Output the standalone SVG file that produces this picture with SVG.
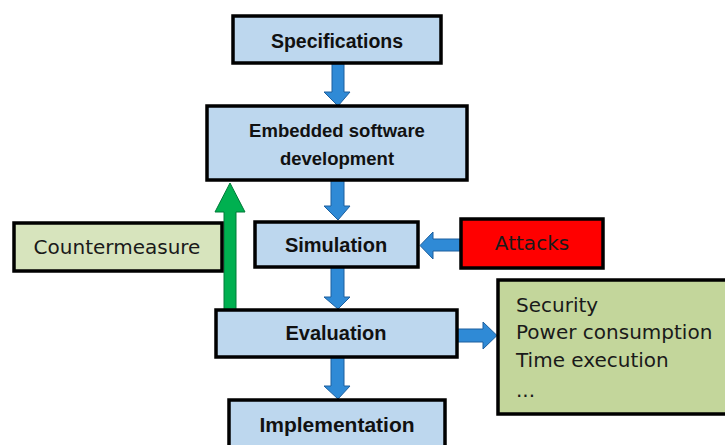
<svg xmlns="http://www.w3.org/2000/svg" width="725" height="445" viewBox="0 0 725 445">
  <style>
    .box { stroke: #000; stroke-width: 3.5; }
    .blue { fill: #bdd7ee; }
    .lgreen { fill: #d7e4bd; }
    .mgreen { fill: #c3d69b; }
    .red { fill: #ff0000; }
    .bt { font-family: "Liberation Sans", Arial, sans-serif; font-weight: bold; fill: #111; text-anchor: middle; }
    .rt { font-family: "DejaVu Sans", Verdana, sans-serif; fill: #1a1a1a; font-size: 20px; }
    .arr { fill: #2f8ad6; stroke: #1d5f9e; stroke-width: 1; }
    .garr { fill: #00b050; stroke: #007a38; stroke-width: 1; }
  </style>
  <rect width="725" height="445" fill="#fff"/>

  <g id="connectors">
    <!-- Specifications -> Embedded software development -->
    <path class="arr" d="M332,64 H344 V92 H350 L338,106 L324,92 H332 Z"/>
    <!-- Embedded software development -> Simulation -->
    <path class="arr" d="M331,180 H344 V206 H350 L338,220 L324,206 H331 Z"/>
    <!-- Simulation -> Evaluation -->
    <path class="arr" d="M331,267 H344 V297 H350 L338,309 L324,297 H331 Z"/>
    <!-- Evaluation -> Implementation -->
    <path class="arr" d="M331,357 H344 V386 H350 L338,399 L324,386 H331 Z"/>
    <!-- Evaluation -> metrics -->
    <path class="arr" d="M457,329 H483 V322 L497,335.5 L483,349 V342 H457 Z"/>
    <!-- Attacks -> Simulation -->
    <path class="arr" d="M460,239 H433 V232 L420,245.5 L433,259 V251 H460 Z"/>
    <!-- Countermeasure feedback: Evaluation -> Embedded software development -->
    <path class="garr" d="M224,310 V212 H215 L230,183 L245,212 H236 V310 Z"/>
  </g>

  <g id="specifications">
    <rect class="box blue" x="233" y="16" width="208" height="47"/>
    <text class="bt" x="337" y="48" font-size="19.5">Specifications</text>
  </g>

  <g id="embedded-development">
    <rect class="box blue" x="207" y="106" width="260" height="74"/>
    <text class="bt" x="337" y="137" font-size="18.5">Embedded software</text>
    <text class="bt" x="337" y="165" font-size="18.5">development</text>
  </g>

  <g id="simulation">
    <rect class="box blue" x="255" y="222" width="163" height="45"/>
    <text class="bt" x="336" y="252" font-size="20">Simulation</text>
  </g>

  <g id="attacks">
    <rect class="box red" x="461" y="219" width="142" height="49"/>
    <text class="rt" x="532" y="250" text-anchor="middle">Attacks</text>
  </g>

  <g id="countermeasure">
    <rect class="box lgreen" x="14" y="223" width="208" height="48"/>
    <text class="rt" x="117" y="254" text-anchor="middle">Countermeasure</text>
  </g>

  <g id="evaluation">
    <rect class="box blue" x="216" y="310" width="241" height="47"/>
    <text class="bt" x="336" y="340" font-size="20">Evaluation</text>
  </g>

  <g id="metrics">
    <rect class="box mgreen" x="498" y="280" width="240" height="134"/>
    <text class="rt" x="516" y="312">Security</text>
    <text class="rt" x="516" y="339">Power consumption</text>
    <text class="rt" x="516" y="367">Time execution</text>
    <text class="rt" x="516" y="397">...</text>
  </g>

  <g id="implementation">
    <rect class="box blue" x="229" y="400" width="216" height="60"/>
    <text class="bt" x="337" y="432" font-size="21">Implementation</text>
  </g>
</svg>
